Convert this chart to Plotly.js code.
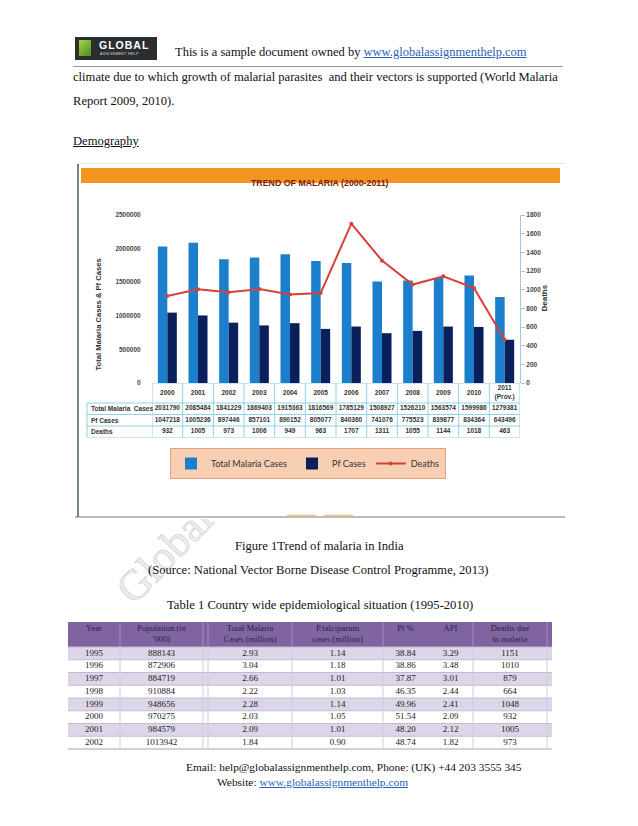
<!DOCTYPE html>
<html><head><meta charset="utf-8">
<script src="https://cdn.plot.ly/plotly-3.0.1.min.js"></script>
<style>
html,body{margin:0;padding:0;background:#fff;width:638px;height:826px;overflow:hidden;}
.t{position:absolute;white-space:nowrap;font-family:"Liberation Serif","Times New Roman",serif;color:#111;line-height:1;}
a{color:#2a62b8;text-decoration:underline;}
#chart{position:absolute;left:75px;top:163px;width:490px;height:356px;background:#fff;z-index:2;}
#tab1{position:absolute;left:68px;top:622px;width:484px;height:128px;z-index:2;}
#wm{position:absolute;left:0;top:0;width:638px;height:826px;z-index:1;}
.t{z-index:3;}
</style></head><body>
<!-- header -->
<div style="position:absolute;left:75px;top:37px;width:82px;height:23px;background:#2b2e30;"></div>
<div style="position:absolute;left:79px;top:40px;width:12px;height:16px;background:linear-gradient(135deg,#a6d64a,#4c8c22);"></div>
<div style="position:absolute;left:99px;top:40px;font-family:'Liberation Sans',sans-serif;font-weight:bold;font-size:10.5px;letter-spacing:1px;color:#fff;line-height:1;">GLOBAL</div>
<div style="position:absolute;left:100px;top:53px;font-family:'Liberation Sans',sans-serif;font-size:3.6px;letter-spacing:0.3px;color:#ddd;line-height:1;">ASSIGNMENT HELP</div>
<div class="t" style="left:175px;top:46px;font-size:12.5px;">This is a sample document owned by <a>www.globalassignmenthelp.com</a></div>
<div style="position:absolute;left:73px;top:66px;width:490px;height:1px;background:#9a9a9a;"></div>
<div class="t" style="left:73px;top:71px;font-size:12.6px;">climate due to which growth of malarial parasites &nbsp;and their vectors is supported (World Malaria</div>
<div class="t" style="left:73px;top:95px;font-size:12.6px;">Report 2009, 2010).</div>
<div class="t" style="left:73px;top:135px;font-size:12.6px;text-decoration:underline;">Demography</div>

<svg id="wm" width="638" height="826"><text x="134" y="606" transform="rotate(-46 134 606)" font-family="Liberation Serif, serif" font-size="43" fill="#ececec" stroke="#cfcfcf" stroke-width="0.6">Global</text></svg>
<div id="chart"></div>

<div class="t" style="left:235px;top:540px;font-size:12.6px;">Figure 1Trend of malaria in India</div>
<div class="t" style="left:148px;top:564px;font-size:12.6px;">(Source: National Vector Borne Disease Control Programme, 2013)</div>
<div class="t" style="left:167px;top:599px;font-size:12.6px;">Table 1 Country wide epidemiological situation (1995-2010)</div>
<div id="tab1"></div>

<div class="t" style="left:186px;top:762px;font-size:11.4px;">Email: help@globalassignmenthelp.com, Phone: (UK) +44 203 3555 345</div>
<div class="t" style="left:217px;top:777px;font-size:11.4px;">Website: <a>www.globalassignmenthelp.com</a></div>

<script>
// ---- Figure 1 data ----
const years = ['2000','2001','2002','2003','2004','2005','2006','2007','2008','2009','2010','2011<br>(Prov.)'];
const totalCases = [2031790,2085484,1841229,1869403,1915363,1816569,1785129,1508927,1526210,1563574,1599986,1279381];
const pfCases = [1047218,1005236,897446,857101,890152,805077,840360,741076,775523,839877,834364,643496];
const deaths = [932,1005,973,1006,949,963,1707,1311,1055,1144,1018,463];
const rowLabels = ['Total Malaria &nbsp;Cases','Pf Cases','Deaths'];
const seriesNames = ['Total Malaria Cases','Pf Cases','Deaths'];
const chartTitle = 'TREND OF MALARIA (2000-2011)';
const leftTitle = 'Total Malaria Cases & Pf Cases';
const rightTitle = 'Deaths';

// ---- Table 1 data ----
const t1Header = ['Year','Population (in<br>\'000)','','Total Malaria<br>Cases (million)','P.falciparum<br>cases (million)','Pf %','API','Deaths due<br>to malaria',''];
const t1Year = [1995,1996,1997,1998,1999,2000,2001,2002];
const t1Population = [888143,872906,884719,910884,948656,970275,984579,1013942];
const t1Total = [2.93,3.04,2.66,2.22,2.28,2.03,2.09,1.84];
const t1Pf = [1.14,1.18,1.01,1.03,1.14,1.05,1.01,0.90];
const t1PfPct = [38.84,38.86,37.87,46.35,49.96,51.54,48.20,48.74];
const t1Api = [3.29,3.48,3.01,2.44,2.41,2.09,2.12,1.82];
const t1Deaths = [1151,1010,879,664,1048,932,1005,973];

// ================= Figure 1 =================
const W = 490, H = 356;
const px = x => x / W, py = y => 1 - y / H;
const sans = 'Liberation Sans, Arial, sans-serif';
const tickFont = {family:sans, size:6.5, color:'#454545', weight:'bold'};
const cellFont = {family:sans, size:6.5, color:'#333', weight:'bold'};
const cyan = '#8fd2ea';
// table rows (in table-axis units = px): header 0..20, then three rows
const rowEdges = [0, 20, 31.5, 43, 54.5];
const rowMid = i => (rowEdges[i] + rowEdges[i+1]) / 2;
const tableRows = [totalCases, pfCases, deaths];

const traces = [
  {type:'bar', name:seriesNames[0], x:years, y:totalCases, marker:{color:'#1c7fcc'}, xaxis:'x', yaxis:'y', hoverinfo:'none'},
  {type:'bar', name:seriesNames[1], x:years, y:pfCases, marker:{color:'#0b1f5c'}, xaxis:'x', yaxis:'y', hoverinfo:'none'},
  {type:'scatter', mode:'lines+markers', name:seriesNames[2], x:years, y:deaths, xaxis:'x', yaxis:'y2', hoverinfo:'none',
   line:{color:'#d8403a', width:2}, marker:{color:'#d8403a', size:4}},
  // header row of the data table (years)
  {type:'scatter', mode:'text', x:years, y:years.map(()=>rowMid(0)), text:years, xaxis:'x', yaxis:'y3',
   textfont:cellFont, showlegend:false, hoverinfo:'none', cliponaxis:false}
].concat(tableRows.map((vals, r)=>({
   type:'scatter', mode:'text', x:years, y:years.map(()=>rowMid(r+1)), text:vals.map(String), xaxis:'x', yaxis:'y3',
   textfont:cellFont, showlegend:false, hoverinfo:'none', cliponaxis:false})));

const shapes = [
  {type:'rect', xref:'paper', yref:'paper', x0:px(6), x1:px(485), y0:py(20), y1:py(5), fillcolor:'#f29420', line:{width:0}},
  {type:'line', xref:'paper', yref:'paper', x0:px(3), x1:px(3), y0:py(1), y1:py(354), line:{color:'#4b5a6b', width:1.5}},
  {type:'line', xref:'paper', yref:'paper', x0:px(3), x1:1, y0:py(0.5), y1:py(0.5), line:{color:'#e2e2e2', width:1}},
  {type:'line', xref:'paper', yref:'paper', x0:0, x1:1, y0:py(354), y1:py(354), line:{color:'#7a7a7a', width:1}},
  {type:'line', xref:'paper', yref:'paper', x0:px(212), x1:px(241), y0:py(352.5), y1:py(352.5), line:{color:'#f0c27a', width:1.5}},
  {type:'line', xref:'paper', yref:'paper', x0:px(249), x1:px(278), y0:py(352.5), y1:py(352.5), line:{color:'#f0c27a', width:1.5}},
  // table: header top border over the year columns
  {type:'line', xref:'x', yref:'y3', x0:-0.5, x1:years.length-0.5, y0:rowEdges[0], y1:rowEdges[0], line:{color:cyan, width:1}}
];
rowEdges.slice(1).forEach(e=>shapes.push({type:'line', xref:'paper', yref:'y3', x0:px(12), x1:px(445), y0:e, y1:e, line:{color:cyan, width:1}}));
shapes.push({type:'line', xref:'paper', yref:'y3', x0:px(12), x1:px(12), y0:rowEdges[1], y1:rowEdges[rowEdges.length-1], line:{color:cyan, width:1}});
for (let i = 0; i <= years.length; i++) shapes.push({type:'line', xref:'x', yref:'y3', x0:i-0.5, x1:i-0.5, y0:rowEdges[0], y1:rowEdges[rowEdges.length-1], line:{color:cyan, width:1}});

const annotations = [
  {xref:'paper', yref:'paper', x:px(245), y:py(12.5), text:'<b>'+chartTitle+'</b>', showarrow:false,
    font:{family:sans, size:8.8, color:'#7b1c0c'}},
  {xref:'paper', yref:'paper', x:px(17), y:py(152), text:'<b>'+leftTitle+'</b>', textangle:-90, showarrow:false,
    font:{family:sans, size:7.6, color:'#333'}},
  {xref:'paper', yref:'paper', x:px(475), y:py(135), text:'<b>'+rightTitle+'</b>', textangle:-90, showarrow:false,
    font:{family:sans, size:8, color:'#333'}}
].concat(rowLabels.map((lab, r)=>({xref:'paper', yref:'y3', x:px(14), y:rowMid(r+1), xanchor:'left', yanchor:'middle',
    text:'<b>'+lab+'</b>', showarrow:false, font:cellFont})));

const layout = {
  width:W, height:H, margin:{l:0,r:0,t:0,b:0}, paper_bgcolor:'#fff', plot_bgcolor:'rgba(0,0,0,0)',
  barmode:'group', bargap:0.38, bargroupgap:0,
  xaxis:{domain:[px(77), px(445)], type:'category', range:[-0.5, years.length-0.5], showticklabels:false, ticks:'', showline:false, showgrid:false, zeroline:false},
  yaxis:{domain:[py(220), py(52)], range:[0,2500000], dtick:500000, tickformat:'d', showgrid:false, zeroline:false,
    showline:false, ticks:'outside', ticklen:9, tickcolor:'rgba(0,0,0,0)', tickfont:tickFont},
  yaxis2:{overlaying:'y', side:'right', anchor:'x', range:[0,1800], dtick:200, showgrid:false, zeroline:false,
    showline:true, linecolor:'#a9c8da', linewidth:1, ticks:'outside', ticklen:4, tickcolor:'#a9c8da', tickfont:tickFont},
  yaxis3:{domain:[py(220+rowEdges[rowEdges.length-1]), py(220)], range:[rowEdges[rowEdges.length-1], 0], anchor:'x', visible:false},
  showlegend:true,
  legend:{orientation:'h', x:px(95), y:py(285), xanchor:'left', yanchor:'top', bgcolor:'#f8cfb3', bordercolor:'#e3a27c', borderwidth:1,
    font:{family:'Lato, sans-serif', size:9, color:'#333'}, traceorder:'normal', itemwidth:30},
  shapes, annotations
};
Plotly.newPlot('chart', traces, layout, {displayModeBar:false, staticPlot:true});

// ================= Table 1 =================
const colWidths = [52,83,5,84,91,45,45,74,5];
const headH = 25, rowH = 12.75, TW = 484, TH = 128;
const colEdges = colWidths.reduce((a,w)=>a.concat(a[a.length-1]+w), [0]);
const colMid = colWidths.map((w,i)=>colEdges[i]+w/2);
const t1Rows = t1Year.length;
const t1RowMid = i => headH + rowH*(i+0.5);
const f2 = a => a.map(v=>v.toFixed(2));
const t1Cols = [t1Year.map(String), t1Population.map(String), null, f2(t1Total), f2(t1Pf), f2(t1PfPct), f2(t1Api), t1Deaths.map(String), null];
const serif = 'Liberation Serif, Times New Roman, serif';

const t1Traces = [{type:'scatter', mode:'text', x:colMid, y:colMid.map(()=>2.5), text:t1Header, textposition:'bottom center',
  textfont:{family:serif, size:8.6, color:'#2a2238'}, hoverinfo:'none', showlegend:false, cliponaxis:false}];
t1Cols.forEach((col,c)=>{ if(!col) return;
  t1Traces.push({type:'scatter', mode:'text', x:col.map(()=>colMid[c]), y:col.map((_,i)=>t1RowMid(i)), text:col,
    textfont:{family:serif, size:9, color:'#222'}, hoverinfo:'none', showlegend:false, cliponaxis:false}); });

const t1Shapes = [{type:'rect', xref:'x', yref:'y', x0:0, x1:TW, y0:0, y1:headH, fillcolor:'#8064a2', line:{width:0}, layer:'below'}];
for (let i=0;i<t1Rows;i++) t1Shapes.push({type:'rect', xref:'x', yref:'y', x0:0, x1:TW, y0:headH+rowH*i, y1:headH+rowH*(i+1),
  fillcolor: i%2===0 ? '#ddd5e8' : '#ffffff', line:{width:0}, layer:'below'});
for (let i=0;i<=t1Rows;i++) t1Shapes.push({type:'line', xref:'x', yref:'y', x0:0, x1:TW, y0:headH+rowH*i, y1:headH+rowH*i,
  line:{color: i===t1Rows ? '#a8a0b4' : '#c4bad3', width:1}, layer:'below'});
colEdges.forEach((e,i)=>{ if (i===0 || i===colEdges.length-1 || i===6) return;
  t1Shapes.push({type:'line', xref:'x', yref:'y', x0:e, x1:e, y0:0, y1:headH, line:{color:'#a290bf', width:1}, layer:'below'});
  t1Shapes.push({type:'line', xref:'x', yref:'y', x0:e, x1:e, y0:headH, y1:headH+rowH*t1Rows, line:{color:'#d2cadd', width:1}, layer:'below'}); });

Plotly.newPlot('tab1', t1Traces, {width:TW, height:TH, margin:{l:0,r:0,t:0,b:0}, paper_bgcolor:'rgba(0,0,0,0)', plot_bgcolor:'rgba(0,0,0,0)',
  xaxis:{range:[0,TW], visible:false}, yaxis:{range:[TH,0], visible:false}, shapes:t1Shapes, showlegend:false},
  {displayModeBar:false, staticPlot:true});
</script>
</body></html>
